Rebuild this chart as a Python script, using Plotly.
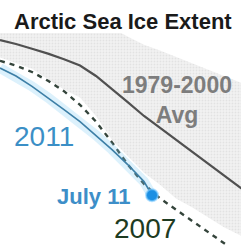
import plotly.graph_objects as go

# Day of year (x) and sea-ice extent in million km² (y)
days = [173, 175, 177, 179, 181, 183, 185, 187, 189, 191, 193, 195, 197, 199, 201, 203, 205]
avg_1979_2000 = [9.70, 9.65, 9.59, 9.53, 9.46, 9.38, 9.25, 9.09, 8.92, 8.75, 8.60, 8.46, 8.31, 8.16, 8.01, 7.86, 7.71]
band_upper = [9.98, 9.99, 10.00, 10.01, 10.01, 10.00, 9.94, 9.85, 9.74, 9.64, 9.57, 9.49, 9.42, 9.34, 9.26, 9.17, 9.09]
band_lower = [9.48, 9.41, 9.34, 9.21, 9.08, 8.98, 8.75, 8.45, 8.24, 8.04, 7.89, 7.72, 7.61, 7.48, 7.36, 7.26, 7.16]
ext_2007 = [9.44, 9.38, 9.30, 9.19, 9.06, 8.89, 8.68, 8.42, 8.14, 7.90, 7.72, 7.58, 7.43, 7.29, 7.15, 7.01, 6.88]

days_2011 = [173, 175, 177, 179, 181, 183, 185, 187, 189, 191, 192]
ext_2011 = [9.35, 9.25, 9.12, 8.98, 8.83, 8.68, 8.51, 8.33, 8.14, 7.93, 7.76]

latest_day = [192]
latest_ext = [7.76]

title = "Arctic Sea Ice Extent"
avg_label = "1979-2000<br>Avg"
label_2011 = "2011"
label_2007 = "2007"
label_latest = "July 11"

x_range = [173, 203.125]
y_range = [7.1375, 10.2]

FONT = "Liberation Sans, Arial, sans-serif"

fig = go.Figure()

# grey band (stippled)
fig.add_trace(go.Scatter(x=days, y=band_upper, mode="lines", line=dict(width=0),
                         hoverinfo="skip"))
fig.add_trace(go.Scatter(x=days, y=band_lower, mode="lines", line=dict(width=0),
                         fill="tonexty", fillcolor="#f0f0f0",
                         fillpattern=dict(shape=".", size=3, solidity=0.3,
                                          fgcolor="#d2d2d2", bgcolor="#f2f2f2"),
                         hoverinfo="skip"))

# 2007 dashed
fig.add_trace(go.Scatter(x=days, y=ext_2007, mode="lines",
                         line=dict(color="#34443b", width=2.4, dash="5px,5px")))

# average line
fig.add_trace(go.Scatter(x=days, y=avg_1979_2000, mode="lines",
                         line=dict(color="#505050", width=2.2)))

# 2011 glow + line
fig.add_trace(go.Scatter(x=days_2011, y=ext_2011, mode="lines",
                         line=dict(color="rgba(130,205,245,0.28)", width=10)))
fig.add_trace(go.Scatter(x=days_2011, y=ext_2011, mode="lines",
                         line=dict(color="#3d7fa6", width=1.6)))

# latest point
fig.add_trace(go.Scatter(x=latest_day, y=latest_ext, mode="markers",
                         marker=dict(size=12, color="#1b8fe3",
                                     line=dict(color="rgba(130,205,255,0.6)", width=2))))

W, H = 241, 245


def px(x, y):
    return x / W, 1 - y / H


fig.add_shape(type="rect", xref="paper", yref="paper", x0=0, x1=1,
              y0=1 - 33 / H, y1=1, fillcolor="white", line=dict(width=0), layer="above")

annos = [
    (title, 122.5, 21, 22, "#1a1a1a", True),
    (label_2011, 44, 136, 28, "#3b8fc6", False),
    (label_latest, 93, 196, 22, "#3d8ec8", True),
    (label_2007, 145, 228, 28, "#1e3b22", False),
]
for text, x, y, size, color, bold in annos:
    ax, ay = px(x, y)
    fig.add_annotation(xref="paper", yref="paper", x=ax, y=ay, text=f"<b>{text}</b>" if bold else text,
                       showarrow=False, xanchor="center", yanchor="middle",
                       font=dict(family=FONT, size=size, color=color))

ax, ay = px(177, 100)
fig.add_annotation(xref="paper", yref="paper", x=ax, y=ay, text=f"<b>{avg_label}</b>",
                   showarrow=False, xanchor="center", yanchor="middle", align="center",
                   font=dict(family=FONT, size=23, color="#7d7d7d"))

fig.update_layout(width=W, height=H, autosize=False,
                  margin=dict(l=0, r=0, t=0, b=0, pad=0),
                  paper_bgcolor="white", plot_bgcolor="white",
                  showlegend=False,
                  xaxis=dict(range=x_range, visible=False, fixedrange=True),
                  yaxis=dict(range=y_range, visible=False, fixedrange=True))

fig.write_html("out.html", config={"displayModeBar": False, "staticPlot": True},
               post_script="document.body.style.margin='0';document.body.style.overflow='hidden';")
